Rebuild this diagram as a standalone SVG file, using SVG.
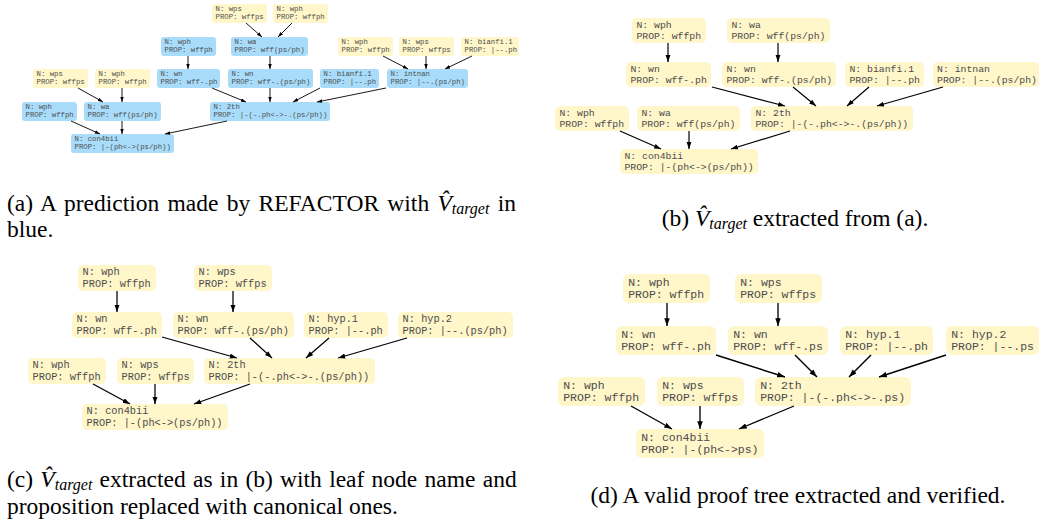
<svg xmlns="http://www.w3.org/2000/svg" width="1039" height="527" viewBox="0 0 1039 527">
<style>
.y{fill:#fff6c9}
.b{fill:#a8dcfa}
.t{font-family:"Liberation Mono",monospace;fill:#4d4d4d}
.fa{font-size:7.3px}
.fb{font-size:9.8px}
.fc{font-size:10.3px}
.fd{font-size:11.5px}
.e{stroke:#000;fill:none;marker-end:url(#ah)}
.ea{stroke-width:0.9}
.eb{stroke-width:1.2}
.ec{stroke-width:1.25}
.ed{stroke-width:1.35}
.cap{font-family:"Liberation Serif",serif;font-size:23.5px;fill:#000}
.it{font-style:italic}
</style>
<defs>
<marker id="ah" viewBox="0 0 10 7" refX="10" refY="3.5" markerWidth="5.8" markerHeight="4.2" orient="auto" markerUnits="strokeWidth">
<path d="M0,0 L10,3.5 L0,7 z" fill="#000"/>
</marker>
</defs>
<rect width="1039" height="527" fill="#fff"/>

<!-- Panel (a) -->
<g id="a1"><rect class="y" x="212" y="4" width="55" height="19" rx="3"/><text class="t fa" x="215.5" y="11.3">N: wps<tspan x="215.5" y="19.2">PROP: wffps</tspan></text></g>
<g id="a2"><rect class="y" x="273" y="4" width="55" height="19" rx="3"/><text class="t fa" x="276.5" y="11.3">N: wph<tspan x="276.5" y="19.2">PROP: wffph</tspan></text></g>
<g id="a3"><rect class="b" x="161" y="37" width="55" height="19" rx="3"/><text class="t fa" x="164.5" y="44.3">N: wph<tspan x="164.5" y="52.2">PROP: wffph</tspan></text></g>
<g id="a4"><rect class="b" x="231" y="37" width="77" height="19" rx="3"/><text class="t fa" x="234.5" y="44.3">N: wa<tspan x="234.5" y="52.2">PROP: wff(ps/ph)</tspan></text></g>
<g id="a5"><rect class="y" x="338" y="37" width="55" height="19" rx="3"/><text class="t fa" x="341.5" y="44.3">N: wph<tspan x="341.5" y="52.2">PROP: wffph</tspan></text></g>
<g id="a6"><rect class="y" x="399" y="37" width="55" height="19" rx="3"/><text class="t fa" x="402.5" y="44.3">N: wps<tspan x="402.5" y="52.2">PROP: wffps</tspan></text></g>
<g id="a7"><rect class="y" x="461" y="37" width="58" height="19" rx="3"/><text class="t fa" x="464.5" y="44.3">N: bianfi.1<tspan x="464.5" y="52.2">PROP: |--.ph</tspan></text></g>
<g id="a8"><rect class="y" x="33" y="69" width="55" height="19" rx="3"/><text class="t fa" x="36.5" y="76.3">N: wps<tspan x="36.5" y="84.2">PROP: wffps</tspan></text></g>
<g id="a9"><rect class="y" x="95" y="69" width="55" height="19" rx="3"/><text class="t fa" x="98.5" y="76.3">N: wph<tspan x="98.5" y="84.2">PROP: wffph</tspan></text></g>
<g id="a10"><rect class="b" x="157" y="69" width="63" height="19" rx="3"/><text class="t fa" x="160.5" y="76.3">N: wn<tspan x="160.5" y="84.2">PROP: wff-.ph</tspan></text></g>
<g id="a11"><rect class="b" x="228" y="69" width="85" height="19" rx="3"/><text class="t fa" x="231.5" y="76.3">N: wn<tspan x="231.5" y="84.2">PROP: wff-.(ps/ph)</tspan></text></g>
<g id="a12"><rect class="b" x="320" y="69" width="59" height="19" rx="3"/><text class="t fa" x="323.5" y="76.3">N: bianfi.1<tspan x="323.5" y="84.2">PROP: |--.ph</tspan></text></g>
<g id="a13"><rect class="b" x="387" y="69" width="81" height="19" rx="3"/><text class="t fa" x="390.5" y="76.3">N: intnan<tspan x="390.5" y="84.2">PROP: |--.(ps/ph)</tspan></text></g>
<g id="a14"><rect class="b" x="22" y="102" width="55" height="19" rx="3"/><text class="t fa" x="25.5" y="109.3">N: wph<tspan x="25.5" y="117.2">PROP: wffph</tspan></text></g>
<g id="a15"><rect class="b" x="84" y="102" width="77" height="19" rx="3"/><text class="t fa" x="87.5" y="109.3">N: wa<tspan x="87.5" y="117.2">PROP: wff(ps/ph)</tspan></text></g>
<g id="a16"><rect class="b" x="210" y="102" width="120" height="19" rx="3"/><text class="t fa" x="213.5" y="109.3">N: 2th<tspan x="213.5" y="117.2">PROP: |-(-.ph&lt;-&gt;-.(ps/ph))</tspan></text></g>
<g id="a17"><rect class="b" x="71" y="134" width="103" height="19" rx="3"/><text class="t fa" x="74.5" y="141.3">N: con4bii<tspan x="74.5" y="149.2">PROP: |-(ph&lt;-&gt;(ps/ph))</tspan></text></g>

<!-- Panel (b) -->
<g id="b1"><rect class="y" x="632" y="18" width="74" height="25" rx="5"/><text class="t fb" x="636.4" y="28">N: wph<tspan x="636.4" y="38.8">PROP: wffph</tspan></text></g>
<g id="b2"><rect class="y" x="727" y="18" width="103" height="25" rx="5"/><text class="t fb" x="731.4" y="28">N: wa<tspan x="731.4" y="38.8">PROP: wff(ps/ph)</tspan></text></g>
<g id="b3"><rect class="y" x="626" y="62" width="85" height="25" rx="5"/><text class="t fb" x="630.4" y="72">N: wn<tspan x="630.4" y="82.8">PROP: wff-.ph</tspan></text></g>
<g id="b4"><rect class="y" x="722" y="62" width="114" height="25" rx="5"/><text class="t fb" x="726.4" y="72">N: wn<tspan x="726.4" y="82.8">PROP: wff-.(ps/ph)</tspan></text></g>
<g id="b5"><rect class="y" x="845" y="62" width="79" height="25" rx="5"/><text class="t fb" x="849.4" y="72">N: bianfi.1<tspan x="849.4" y="82.8">PROP: |--.ph</tspan></text></g>
<g id="b6"><rect class="y" x="933" y="62" width="106" height="25" rx="5"/><text class="t fb" x="937" y="72">N: intnan<tspan x="937" y="82.8">PROP: |--.(ps/ph)</tspan></text></g>
<g id="b7"><rect class="y" x="555" y="106" width="74" height="25" rx="5"/><text class="t fb" x="559.4" y="116">N: wph<tspan x="559.4" y="126.8">PROP: wffph</tspan></text></g>
<g id="b8"><rect class="y" x="637" y="106" width="103" height="25" rx="5"/><text class="t fb" x="641.4" y="116">N: wa<tspan x="641.4" y="126.8">PROP: wff(ps/ph)</tspan></text></g>
<g id="b9"><rect class="y" x="751" y="106" width="162" height="25" rx="5"/><text class="t fb" x="755.4" y="116">N: 2th<tspan x="755.4" y="126.8">PROP: |-(-.ph&lt;-&gt;-.(ps/ph))</tspan></text></g>
<g id="b10"><rect class="y" x="620" y="149" width="138" height="25" rx="5"/><text class="t fb" x="624.4" y="159">N: con4bii<tspan x="624.4" y="169.8">PROP: |-(ph&lt;-&gt;(ps/ph))</tspan></text></g>

<!-- Panel (c) -->
<g id="c1"><rect class="y" x="78" y="265" width="78" height="26" rx="5"/><text class="t fc" x="82.6" y="275.4">N: wph<tspan x="82.6" y="286.6">PROP: wffph</tspan></text></g>
<g id="c2"><rect class="y" x="194" y="265" width="78" height="26" rx="5"/><text class="t fc" x="198.6" y="275.4">N: wps<tspan x="198.6" y="286.6">PROP: wffps</tspan></text></g>
<g id="c3"><rect class="y" x="72" y="312" width="90" height="26" rx="5"/><text class="t fc" x="76.6" y="322.4">N: wn<tspan x="76.6" y="333.6">PROP: wff-.ph</tspan></text></g>
<g id="c4"><rect class="y" x="173" y="312" width="121" height="26" rx="5"/><text class="t fc" x="177.6" y="322.4">N: wn<tspan x="177.6" y="333.6">PROP: wff-.(ps/ph)</tspan></text></g>
<g id="c5"><rect class="y" x="304" y="312" width="84" height="26" rx="5"/><text class="t fc" x="308.6" y="322.4">N: hyp.1<tspan x="308.6" y="333.6">PROP: |--.ph</tspan></text></g>
<g id="c6"><rect class="y" x="398" y="312" width="115" height="26" rx="5"/><text class="t fc" x="402.6" y="322.4">N: hyp.2<tspan x="402.6" y="333.6">PROP: |--.(ps/ph)</tspan></text></g>
<g id="c7"><rect class="y" x="28" y="358" width="78" height="26" rx="5"/><text class="t fc" x="32.6" y="368.4">N: wph<tspan x="32.6" y="379.6">PROP: wffph</tspan></text></g>
<g id="c8"><rect class="y" x="117" y="358" width="77" height="26" rx="5"/><text class="t fc" x="121.6" y="368.4">N: wps<tspan x="121.6" y="379.6">PROP: wffps</tspan></text></g>
<g id="c9"><rect class="y" x="204" y="358" width="171" height="26" rx="5"/><text class="t fc" x="208.6" y="368.4">N: 2th<tspan x="208.6" y="379.6">PROP: |-(-.ph&lt;-&gt;-.(ps/ph))</tspan></text></g>
<g id="c10"><rect class="y" x="82" y="404" width="146" height="26" rx="5"/><text class="t fc" x="86.6" y="414.4">N: con4bii<tspan x="86.6" y="425.6">PROP: |-(ph&lt;-&gt;(ps/ph))</tspan></text></g>

<!-- Panel (d) -->
<g id="d1"><rect class="y" x="623" y="274" width="87" height="29" rx="6"/><text class="t fd" x="628.2" y="285.6">N: wph<tspan x="628.2" y="298">PROP: wffph</tspan></text></g>
<g id="d2"><rect class="y" x="735" y="274" width="87" height="29" rx="6"/><text class="t fd" x="740.2" y="285.6">N: wps<tspan x="740.2" y="298">PROP: wffps</tspan></text></g>
<g id="d3"><rect class="y" x="616" y="326" width="100" height="29" rx="6"/><text class="t fd" x="621.2" y="337.6">N: wn<tspan x="621.2" y="350">PROP: wff-.ph</tspan></text></g>
<g id="d4"><rect class="y" x="728" y="326" width="100" height="29" rx="6"/><text class="t fd" x="733.2" y="337.6">N: wn<tspan x="733.2" y="350">PROP: wff-.ps</tspan></text></g>
<g id="d5"><rect class="y" x="840" y="326" width="93" height="29" rx="6"/><text class="t fd" x="845.2" y="337.6">N: hyp.1<tspan x="845.2" y="350">PROP: |--.ph</tspan></text></g>
<g id="d6"><rect class="y" x="946" y="326" width="93" height="29" rx="6"/><text class="t fd" x="951.2" y="337.6">N: hyp.2<tspan x="951.2" y="350">PROP: |--.ps</tspan></text></g>
<g id="d7"><rect class="y" x="558" y="377" width="87" height="29" rx="6"/><text class="t fd" x="563.2" y="388.6">N: wph<tspan x="563.2" y="401">PROP: wffph</tspan></text></g>
<g id="d8"><rect class="y" x="657" y="377" width="87" height="29" rx="6"/><text class="t fd" x="662.2" y="388.6">N: wps<tspan x="662.2" y="401">PROP: wffps</tspan></text></g>
<g id="d9"><rect class="y" x="755" y="377" width="156" height="29" rx="6"/><text class="t fd" x="760.2" y="388.6">N: 2th<tspan x="760.2" y="401">PROP: |-(-.ph&lt;-&gt;-.ps)</tspan></text></g>
<g id="d10"><rect class="y" x="636" y="429" width="128" height="29" rx="6"/><text class="t fd" x="641.2" y="440.6">N: con4bii<tspan x="641.2" y="453">PROP: |-(ph&lt;-&gt;ps)</tspan></text></g>

<g id="connectors">
<g class="e ea">
<line x1="246" y1="23" x2="262" y2="37"/>
<line x1="292" y1="23" x2="278" y2="37"/>
<line x1="188" y1="56" x2="188" y2="69"/>
<line x1="270" y1="56" x2="270" y2="69"/>
<line x1="383" y1="56" x2="408" y2="69"/>
<line x1="426" y1="56" x2="426" y2="69"/>
<line x1="472" y1="56" x2="445" y2="69"/>
<line x1="78" y1="88" x2="103" y2="102"/>
<line x1="122" y1="88" x2="122" y2="102"/>
<line x1="212" y1="88" x2="246" y2="102"/>
<line x1="270" y1="88" x2="270" y2="102"/>
<line x1="320" y1="88" x2="293" y2="102"/>
<line x1="386" y1="88" x2="317" y2="102"/>
<line x1="71" y1="121" x2="100" y2="134"/>
<line x1="122" y1="121" x2="122" y2="134"/>
<line x1="227" y1="121" x2="165" y2="134"/>
</g>
<g class="e eb">
<line x1="668" y1="43" x2="668" y2="62"/>
<line x1="778" y1="43" x2="778" y2="62"/>
<line x1="712" y1="87" x2="785" y2="106"/>
<line x1="793" y1="87" x2="816" y2="106"/>
<line x1="869" y1="87" x2="847" y2="106"/>
<line x1="943" y1="87" x2="877" y2="106"/>
<line x1="620" y1="131" x2="661" y2="149"/>
<line x1="689" y1="131" x2="689" y2="149"/>
<line x1="790" y1="131" x2="731" y2="149"/>
</g>
<g class="e ec">
<line x1="117" y1="291" x2="117" y2="312"/>
<line x1="233" y1="291" x2="233" y2="312"/>
<line x1="162" y1="337" x2="237" y2="358"/>
<line x1="250" y1="338" x2="272" y2="358"/>
<line x1="329" y1="338" x2="306" y2="358"/>
<line x1="407" y1="338" x2="338" y2="358"/>
<line x1="93" y1="384" x2="130" y2="404"/>
<line x1="155" y1="384" x2="155" y2="404"/>
<line x1="250" y1="384" x2="194" y2="404"/>
</g>
<g class="e ed">
<line x1="667" y1="303" x2="667" y2="326"/>
<line x1="778" y1="303" x2="778" y2="326"/>
<line x1="716" y1="355" x2="785" y2="377"/>
<line x1="795" y1="355" x2="817" y2="377"/>
<line x1="871" y1="355" x2="849" y2="377"/>
<line x1="946" y1="355" x2="879" y2="377"/>
<line x1="631" y1="406" x2="672" y2="429"/>
<line x1="700" y1="406" x2="700" y2="429"/>
<line x1="794" y1="406" x2="739" y2="429"/>
</g>
</g>

<g id="captions">
<text class="cap" x="7" y="211" word-spacing="2.4">(a) A prediction made by REFACTOR with <tspan class="it">V̂</tspan><tspan class="it" font-size="16" dy="3">target</tspan><tspan dy="-3"> in</tspan></text>
<text class="cap" x="7" y="237">blue.</text>
<text class="cap" x="795" y="226" text-anchor="middle">(b) <tspan class="it">V̂</tspan><tspan class="it" font-size="16" dy="3">target</tspan><tspan dy="-3"> extracted from (a).</tspan></text>
<text class="cap" x="7" y="487" word-spacing="1.4">(c) <tspan class="it">V̂</tspan><tspan class="it" font-size="16" dy="3">target</tspan><tspan dy="-3"> extracted as in (b) with leaf node name and</tspan></text>
<text class="cap" x="7" y="514">proposition replaced with canonical ones.</text>
<text class="cap" x="798" y="503" text-anchor="middle">(d) A valid proof tree extracted and verified.</text>
</g>
</svg>
